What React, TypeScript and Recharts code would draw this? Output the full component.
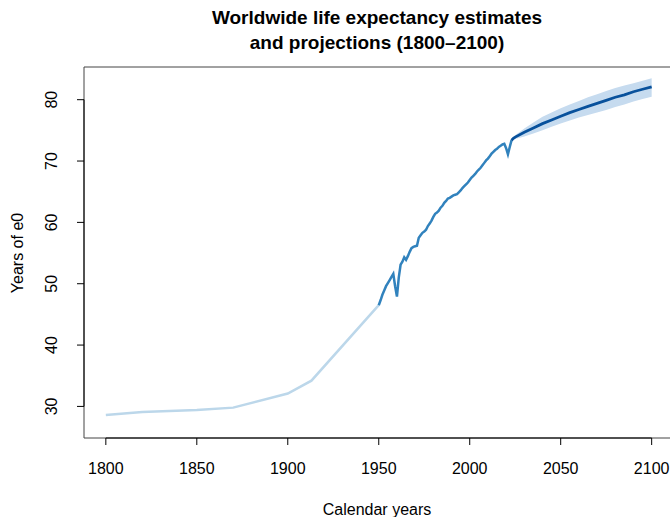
import React from "react";
import {
  ComposedChart,
  Line,
  Area,
  XAxis,
  YAxis,
  ReferenceArea,
  ReferenceLine,
} from "recharts";

// long-run reconstruction (sparse benchmark years)
const histYears = [1800, 1820, 1850, 1870, 1900, 1913, 1950];
const histE0 = [28.6, 29.1, 29.4, 29.8, 32.1, 34.2, 46.5];

// annual estimates 1950-2023
const estStart = 1950;
const estE0 = [
  46.5, 47.3, 48.2, 48.9, 49.6, 50.1, 50.6, 51.1, 51.6, 49.6,
  47.9, 51.0, 53.1, 53.6, 54.3, 53.9, 54.5, 55.2, 55.8, 56.0,
  56.1, 56.2, 57.5, 57.9, 58.3, 58.5, 58.8, 59.4, 59.8, 60.3,
  60.9, 61.4, 61.6, 61.9, 62.4, 62.7, 63.2, 63.5, 63.9, 64.0,
  64.2, 64.4, 64.5, 64.6, 64.9, 65.2, 65.6, 65.9, 66.2, 66.5,
  66.9, 67.3, 67.6, 67.9, 68.3, 68.6, 68.9, 69.3, 69.7, 70.1,
  70.4, 70.8, 71.2, 71.5, 71.8, 72.0, 72.3, 72.5, 72.7, 72.8,
  72.1, 71.1, 72.3, 73.4,
];

// projections: median and 95% interval
const projYears = [2024, 2025, 2030, 2035, 2040, 2045, 2050, 2055, 2060, 2065, 2070, 2075, 2080, 2085, 2090, 2095, 2100];
const projMedian = [73.7, 73.9, 74.7, 75.4, 76.1, 76.7, 77.3, 77.9, 78.4, 78.9, 79.4, 79.9, 80.4, 80.8, 81.3, 81.7, 82.1];
const projLower = [73.5, 73.6, 74.0, 74.5, 75.0, 75.6, 76.1, 76.6, 77.1, 77.5, 77.9, 78.3, 78.8, 79.2, 79.7, 80.1, 80.5];
const projUpper = [73.9, 74.2, 75.3, 76.3, 77.2, 77.9, 78.6, 79.2, 79.8, 80.4, 80.9, 81.4, 81.9, 82.3, 82.7, 83.1, 83.5];

const xTicks = [1800, 1850, 1900, 1950, 2000, 2050, 2100];
const yTicks = [30, 40, 50, 60, 70, 80];

const X_MIN = 1788;
const X_MAX = 2112;
const Y_MIN = 24.85;
const Y_MAX = 85.33;

type Row = {
  year: number;
  hist?: number;
  est?: number;
  proj?: number;
  band?: [number, number];
};

function buildRows(): Row[] {
  const map = new Map<number, Row>();
  const get = (year: number) => {
    if (!map.has(year)) map.set(year, { year });
    return map.get(year)!;
  };
  histYears.forEach((y, i) => (get(y).hist = histE0[i]));
  estE0.forEach((v, i) => (get(estStart + i).est = v));
  // projection line picks up from the last estimate
  const lastYear = estStart + estE0.length - 1;
  get(lastYear).proj = estE0[estE0.length - 1];
  projYears.forEach((y, i) => {
    const r = get(y);
    r.proj = projMedian[i];
    r.band = [projLower[i], projUpper[i]];
  });
  return [...map.values()].sort((a, b) => a.year - b.year);
}

const rows = buildRows();
const FONT = "'Liberation Sans', Arial, Helvetica, sans-serif";

const YTick = (props: any) => {
  const { x, y, payload } = props;
  return (
    <text
      x={x}
      y={y}
      transform={`rotate(-90, ${x}, ${y})`}
      textAnchor="middle"
      fontSize={16}
      fontFamily={FONT}
      fill="#000"
    >
      {payload.value}
    </text>
  );
};

export default function App() {
  return (
    <div
      style={{
        position: "absolute",
        left: 0,
        top: 0,
        width: 670,
        height: 517,
        overflow: "hidden",
        background: "#fff",
      }}
    >
      <ComposedChart
        width={680}
        height={517}
        data={rows}
        margin={{ top: 67, right: 6.5, bottom: 0, left: 0 }}
      >
        <XAxis
          dataKey="year"
          type="number"
          domain={[X_MIN, X_MAX]}
          ticks={xTicks}
          allowDataOverflow
          axisLine={false}
          tickLine={{ stroke: "#000" }}
          tickSize={7}
          tickMargin={18}
          height={79}
          tick={{ fontSize: 16, fontFamily: FONT, fill: "#000" }}
        />
        <YAxis
          type="number"
          domain={[Y_MIN, Y_MAX]}
          ticks={yTicks}
          allowDataOverflow
          axisLine={false}
          tickLine={{ stroke: "#000" }}
          tickSize={7}
          tickMargin={20}
          width={84}
          tick={<YTick />}
        />
        <ReferenceArea
          x1={X_MIN}
          x2={X_MAX}
          y1={Y_MIN}
          y2={Y_MAX}
          fill="none"
          stroke="#444"
          strokeWidth={1}
          fillOpacity={0}
        />
        <ReferenceLine
          segment={[
            { x: 1800, y: Y_MIN },
            { x: 2100, y: Y_MIN },
          ]}
          stroke="#000"
        />
        <ReferenceLine
          segment={[
            { x: X_MIN, y: 30 },
            { x: X_MIN, y: 80 },
          ]}
          stroke="#000"
        />
        <Line
          dataKey="hist"
          stroke="#bcd7ea"
          strokeWidth={2.5}
          dot={false}
          type="linear"
          connectNulls
          isAnimationActive={false}
        />
        <Area
          dataKey="band"
          fill="#c6dbef"
          fillOpacity={1}
          stroke="none"
          type="linear"
          connectNulls
          isAnimationActive={false}
        />
        <Line
          dataKey="est"
          stroke="#3182bd"
          strokeWidth={2.5}
          dot={false}
          type="linear"
          isAnimationActive={false}
        />
        <Line
          dataKey="proj"
          stroke="#08519c"
          strokeWidth={2.8}
          dot={false}
          type="linear"
          connectNulls
          isAnimationActive={false}
        />
      </ComposedChart>
      <svg
        width={670}
        height={517}
        style={{ position: "absolute", left: 0, top: 0, pointerEvents: "none" }}
        fontFamily={FONT}
      >
        <text x={377} y={24} textAnchor="middle" fontSize={19} fontWeight="bold">
          Worldwide life expectancy estimates
        </text>
        <text x={377} y={49} textAnchor="middle" fontSize={19} fontWeight="bold">
          and projections (1800–2100)
        </text>
        <text x={377} y={515} textAnchor="middle" fontSize={16}>
          Calendar years
        </text>
        <text
          x={23}
          y={253}
          textAnchor="middle"
          fontSize={16}
          transform="rotate(-90, 23, 253)"
        >
          Years of e0
        </text>
      </svg>
    </div>
  );
}
